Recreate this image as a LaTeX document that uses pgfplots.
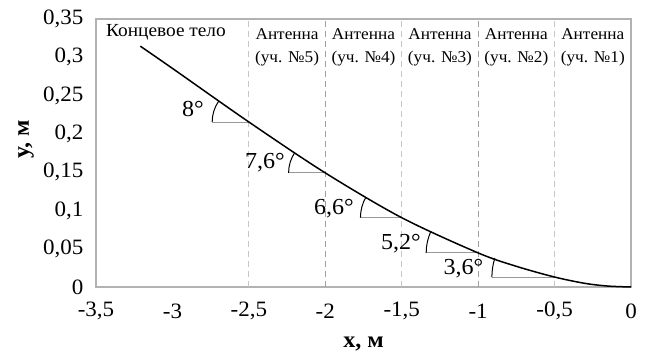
\documentclass[border=0pt]{standalone}
\usepackage{fontspec}
\setmainfont{Liberation Serif}[FakeStretch=1.05]
\usepackage{pgfplots}
\pgfplotsset{compat=1.18}
\usetikzlibrary{calc}
\begin{document}
\begin{tikzpicture}
\begin{axis}[
  name=ax,
  scale only axis,
  width=535bp, height=268bp,
  xmin=-3.5, xmax=0, ymin=0, ymax=0.35,
  xtick={-3.5,-3,-2.5,-2,-1.5,-1,-0.5,0},
  xticklabels={{-3,5},{-3},{-2,5},{-2},{-1,5},{-1},{-0,5},{0}},
  ytick={0,0.05,0.1,0.15,0.2,0.25,0.3,0.35},
  yticklabels={{0},{0,05},{0,1},{0,15},{0,2},{0,25},{0,3},{0,35}},
  major tick length=0pt,
  axis line style={gray!60, line width=1.1bp},
  tick label style={font=\fontsize{22}{22}\selectfont},
  xticklabel style={anchor=center, yshift=-24bp},
  yticklabel style={anchor=east, xshift=-9bp},
  xlabel={\textbf{х, м}},
  ylabel={\textbf{у, м}},
  label style={font=\fontsize{23}{23}\selectfont},
  xlabel style={at={(axis description cs:0.5,0)}, anchor=center, yshift=-57bp},
  ylabel style={at={(axis description cs:0,0.55)}, anchor=center, yshift=70bp},
  clip=false,
]
% section boundaries
\addplot[gray!45, dash pattern=on 6bp off 4bp, line width=0.9bp] coordinates {(-2.5,0) (-2.5,0.35)};
\addplot[gray!75, dash pattern=on 6bp off 4bp, line width=0.9bp] coordinates {(-2,0) (-2,0.35)};
\addplot[gray!45, dash pattern=on 6bp off 4bp, line width=0.9bp] coordinates {(-1.5,0) (-1.5,0.35)};
\addplot[gray!75, dash pattern=on 6bp off 4bp, line width=0.9bp] coordinates {(-1,0) (-1,0.35)};
\addplot[gray!45, dash pattern=on 6bp off 4bp, line width=0.9bp] coordinates {(-0.5,0) (-0.5,0.35)};
% horizontal reference lines of the angles
\addplot[gray!80, line width=0.9bp] coordinates {(-2.74,0.2155) (-2.5,0.2155)};
\addplot[gray!80, line width=0.9bp] coordinates {(-2.24,0.149) (-2,0.149)};
\addplot[gray!80, line width=0.9bp] coordinates {(-1.77,0.0905) (-1.5,0.0905)};
\addplot[gray!80, line width=0.9bp] coordinates {(-1.34,0.0445) (-1,0.0445)};
\addplot[gray!80, line width=0.9bp] coordinates {(-0.91,0.013) (-0.5,0.013)};
% the curve
\addplot[black, line width=1.5bp, smooth, tension=0.5] coordinates {
  (-3.21,0.3145) (-3,0.2855) (-2.5,0.2155) (-2,0.149) (-1.5,0.0905)
  (-1,0.0445) (-0.75,0.027) (-0.5,0.013) (-0.3,0.0047) (-0.15,0.0012) (0,0)};
% angle arcs
\draw[line width=1bp] let \p1=(axis cs:-2.5,0.2155), \p2=(axis cs:-2.74,0.2492) in
  (axis cs:-2.74,0.2155) arc[start angle=180, end angle={atan2(\y2-\y1,\x2-\x1)}, radius={\x1-\x2}];
\draw[line width=1bp] let \p1=(axis cs:-2,0.149), \p2=(axis cs:-2.24,0.181) in
  (axis cs:-2.24,0.149) arc[start angle=180, end angle={atan2(\y2-\y1,\x2-\x1)}, radius={\x1-\x2}];
\draw[line width=1bp] let \p1=(axis cs:-1.5,0.0905), \p2=(axis cs:-1.77,0.1217) in
  (axis cs:-1.77,0.0905) arc[start angle=180, end angle={atan2(\y2-\y1,\x2-\x1)}, radius={\x1-\x2}];
\draw[line width=1bp] let \p1=(axis cs:-1,0.0445), \p2=(axis cs:-1.34,0.0754) in
  (axis cs:-1.34,0.0445) arc[start angle=180, end angle={atan2(\y2-\y1,\x2-\x1)}, radius={\x1-\x2}];
\draw[line width=1bp] let \p1=(axis cs:-0.5,0.013), \p2=(axis cs:-0.91,0.0388) in
  (axis cs:-0.91,0.013) arc[start angle=180, end angle={atan2(\y2-\y1,\x2-\x1)}, radius={\x1-\x2}];
% angle labels
\node[font=\fontsize{23}{23}\selectfont] at (axis cs:-2.866,0.232) {8°};
\node[font=\fontsize{23}{23}\selectfont] at (axis cs:-2.395,0.1625) {7,6°};
\node[font=\fontsize{23}{23}\selectfont] at (axis cs:-1.943,0.102) {6,6°};
\node[font=\fontsize{23}{23}\selectfont] at (axis cs:-1.505,0.057) {5,2°};
\node[font=\fontsize{23}{23}\selectfont] at (axis cs:-1.096,0.0236) {3,6°};
% section captions
\node[font=\fontsize{18.5}{18.5}\selectfont] at (axis cs:-3.042,0.333) {Концевое тело};
\node[font=\fontsize{16.5}{23}\selectfont, align=center] at (axis cs:-2.25,0.313) {Антенна\\(уч. №5)};
\node[font=\fontsize{16.5}{23}\selectfont, align=center] at (axis cs:-1.75,0.313) {Антенна\\(уч. №4)};
\node[font=\fontsize{16.5}{23}\selectfont, align=center] at (axis cs:-1.25,0.313) {Антенна\\(уч. №3)};
\node[font=\fontsize{16.5}{23}\selectfont, align=center] at (axis cs:-0.75,0.313) {Антенна\\(уч. №2)};
\node[font=\fontsize{16.5}{23}\selectfont, align=center] at (axis cs:-0.25,0.313) {Антенна\\(уч. №1)};
\end{axis}
\path ($(ax.south west)+(-96bp,-69bp)$) rectangle ($(ax.north east)+(15bp,19bp)$);
\end{tikzpicture}
\end{document}
